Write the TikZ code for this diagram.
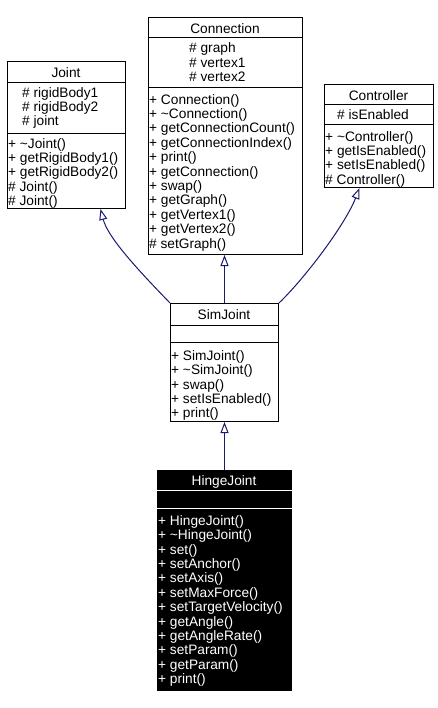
\documentclass[tikz,border=0pt]{standalone}
\usepackage{fontspec}
\setmainfont{Liberation Sans}
\usetikzlibrary{arrows.meta}
\definecolor{edgeblue}{HTML}{191970}
\begin{document}
\begin{tikzpicture}[x=1pt,y=-1pt,
  box/.style={draw=black, line width=1pt, inner sep=0pt, anchor=north west, fill=white},
  darkbox/.style={box, fill=black},
  txt/.style={inner sep=0pt, font=\fontsize{13.7}{14.4}\selectfont, text height=9.6pt, text depth=2.8pt, yshift=-1.8pt},
  mline/.style={txt, anchor=west},
  title/.style={txt, anchor=center},
  sep/.style={line width=1pt},
  inh/.style={draw=edgeblue, line width=1pt, -{Triangle[open, length=11pt, width=8pt]}}]
\useasboundingbox[fill=white] (0,0) rectangle (438,708);

% ---- Joint
\node[box, minimum width=118pt, minimum height=147pt] (joint) at (7,61) {};
\draw[sep] (joint.west |- 0,83) -- (joint.east |- 0,83);
\draw[sep] (joint.west |- 0,134) -- (joint.east |- 0,134);
\node[title] (joint-t) at (66,72) {Joint};
\foreach \t [count=\i] in {\# rigidBody1, \# rigidBody2, \# joint}
  \node[mline] (joint-a\i) at (22,{77.6+14.4*\i}) {\t};
\foreach \t [count=\i] in {+ \textasciitilde Joint(), + getRigidBody1(), + getRigidBody2(), \# Joint(), \# Joint()}
  \node[mline] (joint-m\i) at (8,{128.6+14.4*\i}) {\t};

% ---- Connection
\node[box, minimum width=154pt, minimum height=237pt] (conn) at (148,17) {};
\draw[sep] (conn.west |- 0,38) -- (conn.east |- 0,38);
\draw[sep] (conn.west |- 0,88) -- (conn.east |- 0,88);
\node[title] (conn-t) at (225,28) {Connection};
\foreach \t [count=\i] in {\# graph, \# vertex1, \# vertex2}
  \node[mline] (conn-a\i) at (189,{33.2+14.4*\i}) {\t};
\foreach \t [count=\i] in {+ Connection(), + \textasciitilde Connection(), + getConnectionCount(), + getConnectionIndex(), + print(), + getConnection(), + swap(), + getGraph(), + getVertex1(), + getVertex2(), \# setGraph()}
  \node[mline] (conn-m\i) at (149,{84.6+14.4*\i}) {\t};

% ---- Controller
\node[box, minimum width=109pt, minimum height=103pt] (ctrl) at (324,84) {};
\draw[sep] (ctrl.west |- 0,105) -- (ctrl.east |- 0,105);
\draw[sep] (ctrl.west |- 0,125) -- (ctrl.east |- 0,125);
\node[title] (ctrl-t) at (378.5,95) {Controller};
\node[mline] (ctrl-a1) at (337,114) {\# isEnabled};
\foreach \t [count=\i] in {+ \textasciitilde Controller(), + getIsEnabled(), + setIsEnabled(), \# Controller()}
  \node[mline] (ctrl-m\i) at (325,{121.6+14.4*\i}) {\t};

% ---- SimJoint
\node[box, minimum width=108pt, minimum height=118pt] (sim) at (170,303) {};
\draw[sep] (sim.west |- 0,325) -- (sim.east |- 0,325);
\draw[sep] (sim.west |- 0,342) -- (sim.east |- 0,342);
\node[title] (sim-t) at (224,314) {SimJoint};
\foreach \t [count=\i] in {+ SimJoint(), + \textasciitilde SimJoint(), + swap(), + setIsEnabled(), + print()}
  \node[mline] (sim-m\i) at (171,{340.6+14.4*\i}) {\t};

% ---- HingeJoint
\node[darkbox, minimum width=134pt, minimum height=220pt] (hinge) at (157,470) {};
\draw[sep, white] (hinge.west |- 0,490) -- (hinge.east |- 0,490);
\draw[sep, white] (hinge.west |- 0,508) -- (hinge.east |- 0,508);
\node[title, text=white] (hinge-t) at (224,480) {HingeJoint};
\foreach \t [count=\i] in {+ HingeJoint(), + \textasciitilde HingeJoint(), + set(), + setAnchor(), + setAxis(), + setMaxForce(), + setTargetVelocity(), + getAngle(), + getAngleRate(), + setParam(), + getParam(), + print()}
  \node[mline, text=white] (hinge-m\i) at (158,{505.6+14.4*\i}) {\t};

% ---- inheritance connectors
\draw[inh] (sim.north west) .. controls (140,272) and (108,238) .. ([xshift=34pt]joint.south);
\draw[inh] (sim.north) -- (sim.north |- conn.south);
\draw[inh] (sim.north east) .. controls (305,278) and (345,225) .. ([xshift=-19.5pt]ctrl.south);
\draw[inh] (hinge.north) -- (hinge.north |- sim.south);
\end{tikzpicture}
\end{document}
